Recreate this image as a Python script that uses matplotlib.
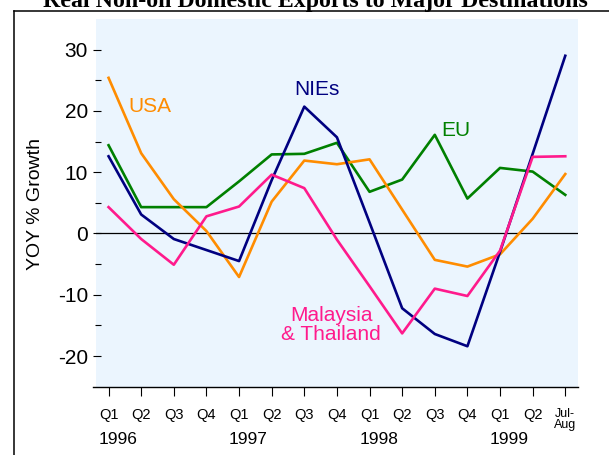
import matplotlib
matplotlib.use("Agg")
import matplotlib.pyplot as plt
from matplotlib.lines import Line2D
from matplotlib import transforms

# ---- data ----
quarters = ["Q1", "Q2", "Q3", "Q4", "Q1", "Q2", "Q3", "Q4",
            "Q1", "Q2", "Q3", "Q4", "Q1", "Q2", "Jul-\nAug"]
years = ["1996", "1997", "1998", "1999"]
year_pos = [0, 4, 8, 12]
usa = [25.4, 13.1, 5.6, 0.4, -7.1, 5.2, 11.9, 11.3, 12.1, 3.9, -4.3, -5.4, -3.4, 2.4, 9.7]
nies = [12.6, 3.1, -0.9, -2.7, -4.5, 8.7, 20.7, 15.7, 1.8, -12.2, -16.4, -18.4, -3.0, 13.0, 29.0]
eu = [14.4, 4.3, 4.3, 4.3, 8.5, 12.9, 13.0, 14.8, 6.8, 8.8, 16.1, 5.7, 10.7, 10.1, 6.3]
malay = [4.3, -0.9, -5.1, 2.8, 4.4, 9.6, 7.4, -1.0, -8.6, -16.3, -9.0, -10.2, -2.8, 12.5, 12.6]
yticks = [-20, -10, 0, 10, 20, 30]
yminor = [-15, -5, 5, 15, 25]

SANS = ['Liberation Sans', 'DejaVu Sans']
plt.rcParams['font.family'] = SANS

W, H = 609, 455
fig = plt.figure(figsize=(W / 100, H / 100), dpi=100)
fig.patch.set_facecolor('white')
ax = fig.add_axes([96 / W, 1 - 386.7 / H, 482 / W, (386.7 - 19) / H])
ax.set_facecolor('#EBF5FE')

x = list(range(len(quarters)))
c_usa, c_nies, c_eu, c_mal = '#FF8C00', '#000080', '#008000', '#FF1A8C'
ax.axhline(0, color='black', lw=0.9, zorder=1)
ax.plot(x, eu, color=c_eu, lw=1.9, zorder=3)
ax.plot(x, usa, color=c_usa, lw=1.9, zorder=3)
ax.plot(x, nies, color=c_nies, lw=1.9, zorder=3)
ax.plot(x, malay, color=c_mal, lw=1.9, zorder=3)

ax.set_xlim(-0.385, 14.39)
ax.set_ylim(-25, 35)

for s in ['top', 'right']:
    ax.spines[s].set_visible(False)
ax.spines['left'].set_color('none')
ax.spines['left'].set_position(('axes', 4.5 / 482))
ax.spines['bottom'].set_color('black')
ax.spines['bottom'].set_linewidth(1.0)
ax.spines['bottom'].set_bounds(-0.475, 14.39)

ax.set_yticks(yticks)
ax.set_yticklabels([str(v) for v in yticks])
ax.set_yticks(yminor, minor=True)
ax.tick_params(axis='y', which='major', length=6, width=0.8, direction='out',
               labelsize=15, pad=3, color='black')
ax.tick_params(axis='y', which='minor', length=4, width=0.8, direction='out', color='black')

ax.set_xticks(x)
ax.set_xticklabels(quarters)
ax.tick_params(axis='x', which='major', length=6.5, width=0.8, direction='out',
               labelsize=10.5, pad=9, color='black')
last = ax.get_xticklabels()[-1]
last.set_fontsize(9)
last.set_linespacing(0.85)

trans = transforms.blended_transform_factory(ax.transData, fig.transFigure)
for yp, yr in zip(year_pos, years):
    ax.text(yp + 0.28, 1 - 444 / H, yr, transform=trans, ha='center',
            va='baseline', fontsize=12.5, family=SANS, clip_on=False)

# series labels
ax.text(1.27, 19.8, 'USA', color=c_usa, fontsize=15, ha='center', va='baseline')
ax.text(6.39, 22.6, 'NIEs', color=c_nies, fontsize=15, ha='center', va='baseline')
ax.text(10.65, 15.9, 'EU', color=c_eu, fontsize=15, ha='center', va='baseline')
ax.text(6.82, -14.9, 'Malaysia\n& Thailand', color=c_mal, fontsize=15, ha='center',
        va='center', linespacing=1.0)

fig.text(36 / W, 1 - 203.5 / H, 'YOY % Growth', rotation=90, ha='center',
         va='center', fontsize=14)

# title (partially cut off at the top, as in the reference)
title = fig.text(315.8 / W, 1 - 7 / H, 'Real Non-oil Domestic Exports to Major Destinations',
                 ha='center', va='baseline', fontsize=15, fontweight='bold',
                 family=['Liberation Serif', 'DejaVu Serif'])
renderer = fig.canvas.get_renderer()
wpx = title.get_window_extent(renderer).width
title.set_fontsize(15 * 545 / wpx)

# outer frame
fig.add_artist(Line2D([13.5 / W, 13.5 / W], [0, 1 - 10.5 / H], transform=fig.transFigure,
                      color='black', lw=1.1))
fig.add_artist(Line2D([13.5 / W, 1], [1 - 10.5 / H, 1 - 10.5 / H], transform=fig.transFigure,
                      color='black', lw=1.1))

fig.savefig('out.png', dpi=100)
